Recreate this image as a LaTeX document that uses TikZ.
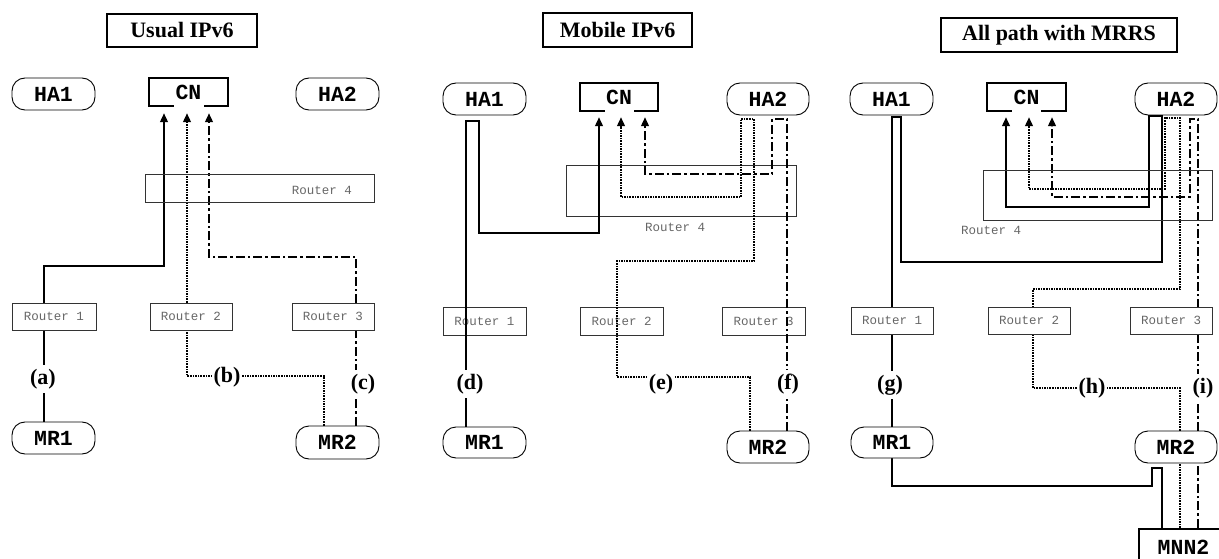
\documentclass[tikz,border=0pt]{standalone}
\usepackage{fontspec}
\setmainfont{Liberation Serif}
\newfontfamily\courfont{Liberation Mono}
\usetikzlibrary{arrows.meta,backgrounds}

\tikzset{
  titlebox/.style={draw,line width=2.2pt,inner sep=0pt,font=\fontsize{22}{25}\selectfont\bfseries},
  hostnode/.style={draw,line width=0.9pt,fill=white,rounded corners=13pt,minimum width=83pt,minimum height=32pt,inner sep=0pt,font=\courfont\fontsize{21.5}{24}\selectfont\bfseries},
  cnbox/.style={draw,line width=2.2pt,fill=white,minimum width=79pt,minimum height=28pt,inner sep=0pt,font=\courfont\fontsize{21.5}{24}\selectfont\bfseries},
  routerbox/.style={draw=black!80,line width=0.8pt,minimum width=83pt,minimum height=27pt,inner sep=0pt,text=black!60,font=\courfont\fontsize{12.5}{14}\selectfont},
  routerfill/.style={routerbox,fill=white},
  bigrouter/.style={draw=black!80,line width=0.8pt,inner sep=0pt},
  routertext/.style={text=black!60,inner sep=0pt,font=\courfont\fontsize{12.5}{14}\selectfont},
  pathlabel/.style={fill=white,inner xsep=2pt,inner ysep=4pt,font=\fontsize{22}{25}\selectfont\bfseries},
  solidp/.style={line width=2.6pt},
  dotp/.style={line width=2.6pt,dash pattern=on 1.6pt off 1pt},
  dashdotp/.style={line width=2.6pt,dash pattern=on 9pt off 3pt on 2.5pt off 3pt},
  toarrow/.style={-{Triangle[length=9pt,width=7.5pt]}},
}

\begin{document}
\begin{tikzpicture}[x=1pt,y=-1pt]
\clip (0,0) rectangle (1219,559);
\useasboundingbox (0,0) rectangle (1219,559);

% ---------------- Panel 1: Usual IPv6 ----------------
\node[titlebox,minimum width=150pt,minimum height=33pt] (t1) at (182,30.5) {Usual IPv6};
\node[hostnode] (ha1a) at (53.5,94) {HA1};
\node[cnbox] (cn1) at (188.5,92) {CN};
\fill[white] ([xshift=-15pt,yshift=2.5pt]cn1.south) rectangle ([xshift=15pt,yshift=-2.5pt]cn1.south);
\node[hostnode] (ha2a) at (337.5,94) {HA2};
\node[bigrouter,minimum width=229pt,minimum height=28pt] (r4a) at (259.5,188) {};
\node[routertext] (r4at) at (322,190) {Router 4};
\node[routerfill,minimum width=84pt] (r1a) at (54,316.5) {Router 1};
\node[routerfill,minimum width=82pt] (r2a) at (191,316.5) {Router 2};
\node[routerfill,minimum width=82pt] (r3a) at (333,316.5) {Router 3};
\node[hostnode] (mr1a) at (53.5,438) {MR1};
\node[hostnode,minimum height=33pt] (mr2a) at (337.5,442.5) {MR2};

\begin{scope}[on background layer]
\draw[solidp,toarrow] ([xshift=-9.5pt]mr1a.north) -- (44,266) -- (164,266) -- ([xshift=-24.5pt,yshift=-6pt]cn1.south);
\draw[dotp,toarrow] ([xshift=-13.5pt]mr2a.north) -- (324,376) -- (187,376) -- ([xshift=-1.5pt,yshift=-6pt]cn1.south);
\draw[dashdotp,toarrow] ([xshift=18.5pt]mr2a.north) -- (356,257) -- (209,257) -- ([xshift=20.5pt,yshift=-6pt]cn1.south);
\end{scope}
\node[pathlabel] (la) at (43,379) {(a)};
\node[pathlabel] (lb) at (227,377) {(b)};
\node[pathlabel] (lc) at (363,384) {(c)};

% ---------------- Panel 2: Mobile IPv6 ----------------
\node[titlebox,minimum width=149pt,minimum height=34pt] (t2) at (617.5,30) {Mobile IPv6};
\node[hostnode] (ha1b) at (484.5,99) {HA1};
\node[cnbox,minimum width=78pt] (cn2) at (619,97) {CN};
\fill[white] ([xshift=-14.5pt,yshift=2.5pt]cn2.south) rectangle ([xshift=14.5pt,yshift=-2.5pt]cn2.south);
\node[hostnode,minimum width=82pt] (ha2b) at (768,99) {HA2};
\node[bigrouter,minimum width=230pt,minimum height=51pt] (r4b) at (681,190.5) {};
\node[routertext] (r4bt) at (675,227) {Router 4};
\node[routerbox,minimum height=28pt] (r1b) at (484.5,321) {Router 1};
\node[routerbox,minimum height=28pt] (r2b) at (621.5,321) {Router 2};
\node[routerbox,minimum height=28pt] (r3b) at (763.5,321) {Router 3};
\node[hostnode,minimum height=31pt] (mr1b) at (484.5,442.5) {MR1};
\node[hostnode,minimum width=82pt] (mr2b) at (768,447) {MR2};

\draw[solidp,toarrow] ([xshift=-18.5pt]mr1b.north) -- (466,121) -- (479,121) -- (479,233) -- (599,233) -- ([xshift=-20pt,yshift=-5pt]cn2.south);
\draw[dotp,toarrow] ([xshift=-18pt]mr2b.north) -- (750,377) -- (617,377) -- (617,261) -- (754,261) -- (754,119) -- (741,119) -- (741,197) -- (621,197) -- ([xshift=2pt,yshift=-5pt]cn2.south);
\draw[dashdotp,toarrow] ([xshift=19pt]mr2b.north) -- (787,119) -- (772,119) -- (772,174) -- (645,174) -- ([xshift=26pt,yshift=-5pt]cn2.south);
\node[pathlabel] (ld) at (470,384) {(d)};
\node[pathlabel] (le) at (661,384) {(e)};
\node[pathlabel] (lf) at (788,384) {(f)};

% ---------------- Panel 3: All path with MRRS ----------------
\node[titlebox,minimum width=236pt,minimum height=34pt] (t3) at (1059,35) {All path with MRRS};
\node[hostnode] (ha1c) at (891.5,99) {HA1};
\node[cnbox] (cn3) at (1026.5,97) {CN};
\fill[white] ([xshift=-14.5pt,yshift=2.5pt]cn3.south) rectangle ([xshift=14.5pt,yshift=-2.5pt]cn3.south);
\node[hostnode,minimum width=82pt] (ha2c) at (1176,99) {HA2};
\node[bigrouter,minimum width=229pt,minimum height=50pt] (r4c) at (1097.5,195) {};
\node[routertext] (r4ct) at (991,230) {Router 4};
\node[routerfill,minimum width=82pt] (r1c) at (892,320.5) {Router 1};
\node[routerfill,minimum width=82pt] (r2c) at (1029,320.5) {Router 2};
\node[routerfill,minimum width=82pt] (r3c) at (1171,320.5) {Router 3};
\node[hostnode,minimum width=82pt,minimum height=31pt] (mr1c) at (892,442.5) {MR1};
\node[hostnode,minimum width=82pt] (mr2c) at (1176,447) {MR2};
\node[cnbox,minimum width=89pt,minimum height=36pt] (mnn2) at (1183.5,547) {MNN2};

\begin{scope}[on background layer]
\draw[solidp] ([xshift=-21.5pt]mnn2.north) -- (1162,468) -- (1152,468) -- (1152,486) -- (892,486) -- (mr1c.south);
\draw[solidp,toarrow] (mr1c.north) -- (892,117) -- (901,117) -- (901,262) -- (1162,262) -- (1162,116) -- (1149,116) -- (1149,207) -- (1006,207) -- ([xshift=-20.5pt,yshift=-5pt]cn3.south);
\draw[dotp] ([xshift=-3.5pt]mnn2.north) -- ([xshift=4pt]mr2c.south);
\draw[dotp,toarrow] ([xshift=4pt]mr2c.north) -- (1180,388) -- (1033,388) -- (1033,289) -- (1180,289) -- (1180,118) -- (1165,118) -- (1165,189) -- (1029,189) -- ([xshift=2.5pt,yshift=-5pt]cn3.south);
\draw[dashdotp] ([xshift=14.5pt]mnn2.north) -- ([xshift=22pt]mr2c.south);
\draw[dashdotp,toarrow] ([xshift=22pt]mr2c.north) -- (1198,119) -- (1190,119) -- (1190,197) -- (1052,197) -- ([xshift=25.5pt,yshift=-5pt]cn3.south);
\end{scope}
\node[pathlabel] (lg) at (890,385) {(g)};
\node[pathlabel] (lh) at (1092,388) {(h)};
\node[pathlabel] (li) at (1203,388) {(i)};
\end{tikzpicture}
\end{document}
